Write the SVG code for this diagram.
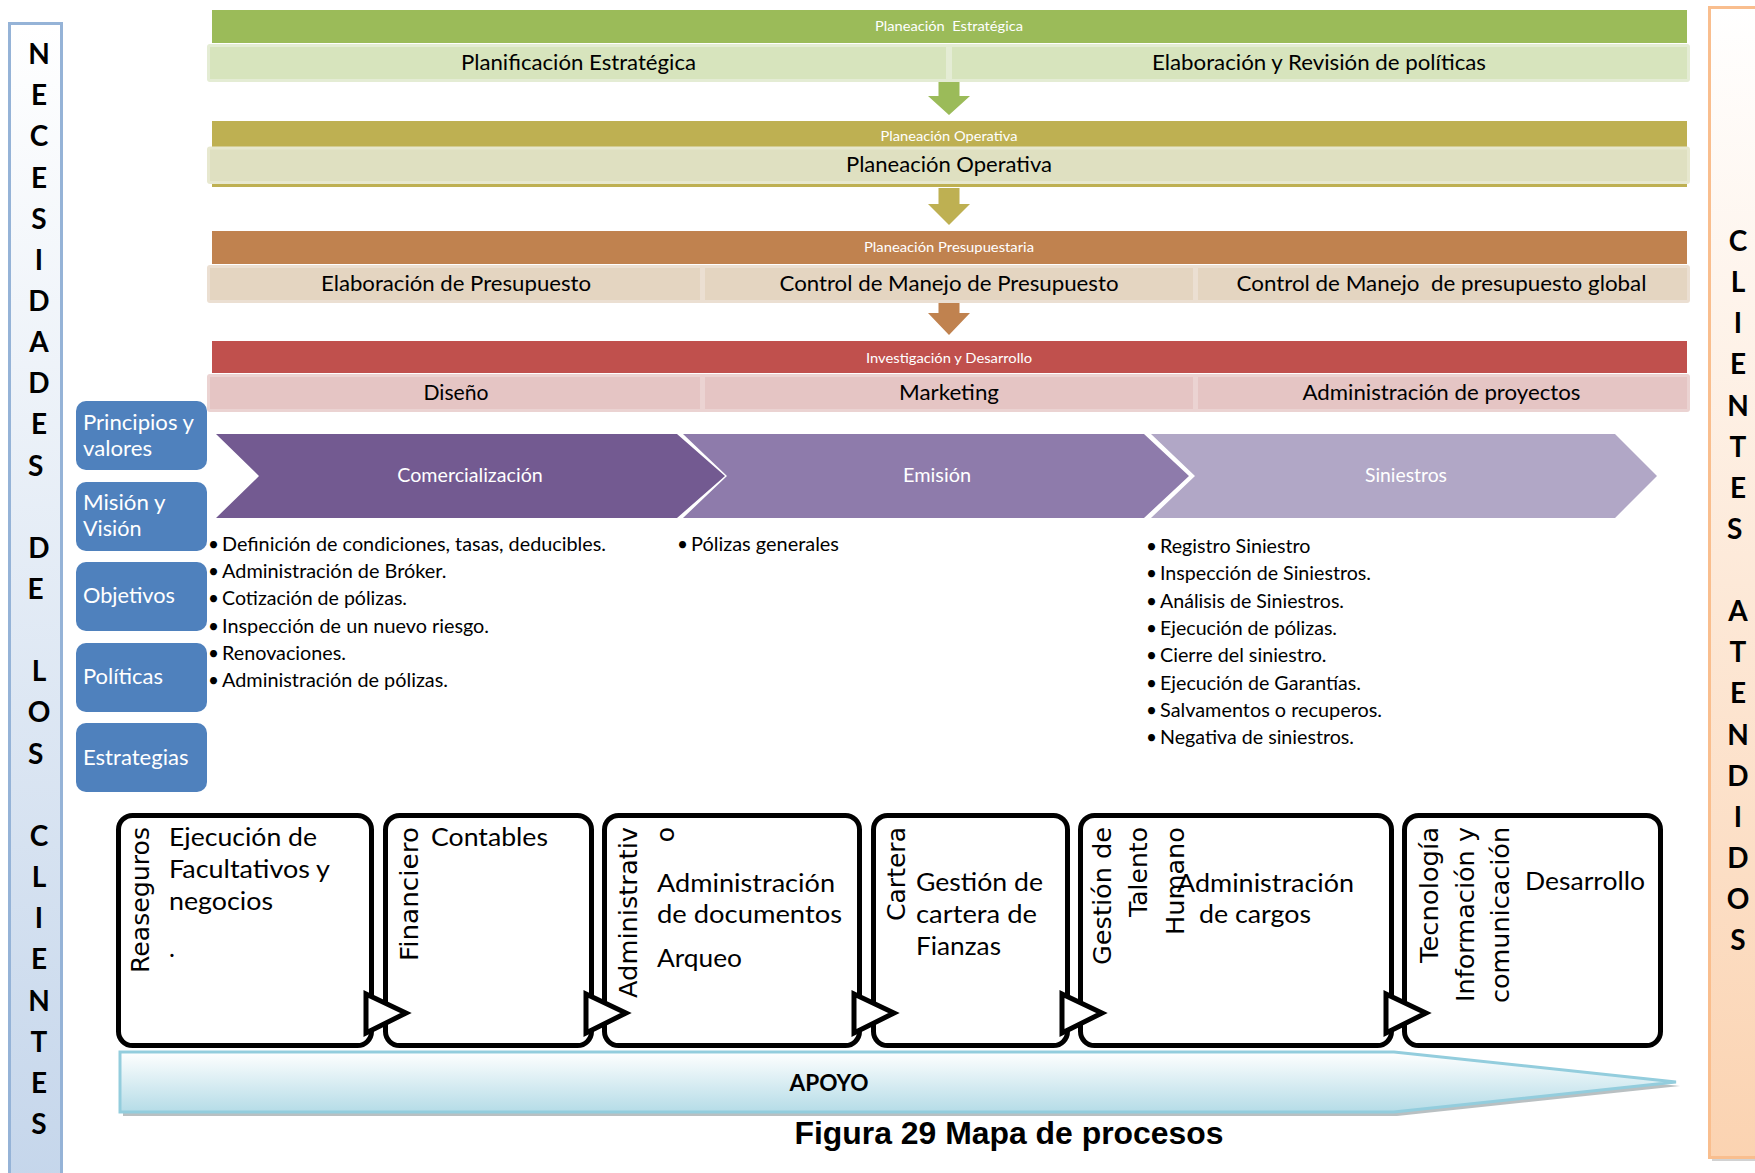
<svg xmlns="http://www.w3.org/2000/svg" width="1755" height="1173" viewBox="0 0 1755 1173">
<defs>
  <linearGradient id="gLeft" x1="0" y1="0" x2="0" y2="1">
    <stop offset="0" stop-color="#FFFFFF"/>
    <stop offset="1" stop-color="#C5D6EB"/>
  </linearGradient>
  <linearGradient id="gRight" x1="0" y1="0" x2="0" y2="1">
    <stop offset="0" stop-color="#FFFFFF"/>
    <stop offset="1" stop-color="#FBD3B1"/>
  </linearGradient>
  <linearGradient id="gApoyo" x1="0" y1="0" x2="0" y2="1">
    <stop offset="0" stop-color="#FFFFFF"/>
    <stop offset="1" stop-color="#B5DCE7"/>
  </linearGradient>
</defs>
<style>
  text{font-family:Lato,"Open Sans","Liberation Sans",sans-serif;fill:#000}
  .pre{white-space:pre}
  .hd{font-size:14px;fill:#fff;text-anchor:middle}
  .rw{font-size:21px;text-anchor:middle}
  .chev{font-size:19px;fill:#fff;text-anchor:middle}
  .blue{font-size:21.5px;fill:#fff}
  .bl{font-size:19px}
  .bx{font-size:25px}
  .vt{font-family:"DejaVu Sans",Verdana,sans-serif;font-size:25px;text-anchor:end}
  .side{font-weight:700;font-size:28px;text-anchor:middle}
  .caption{font-family:"Liberation Sans",Arial,sans-serif;font-weight:700;font-size:32px;text-anchor:middle}
  .box{fill:#fff;stroke:#000;stroke-width:5}
  .tri{fill:#fff;stroke:#000;stroke-width:5;stroke-linejoin:miter}
  .bluebox{fill:#4F81BD}
</style>

<!-- side bands -->
<g id="necesidades">
  <rect x="9.5" y="23.5" width="52" height="1160" fill="url(#gLeft)" stroke="#95B3D7" stroke-width="3"/>
  <text class="side">
    <tspan x="39" y="64">N</tspan><tspan x="39" y="105.2">E</tspan><tspan x="39" y="146.3">C</tspan><tspan x="39" y="187.5">E</tspan><tspan x="39" y="228.6">S</tspan><tspan x="39" y="269.8">I</tspan><tspan x="39" y="310.9">D</tspan><tspan x="39" y="352.1">A</tspan><tspan x="39" y="393.2">D</tspan><tspan x="39" y="434.4">E</tspan><tspan x="39" y="475.5">S</tspan>
    <tspan x="39" y="557.8">D</tspan><tspan x="39" y="599">E</tspan>
    <tspan x="39" y="681.3">L</tspan><tspan x="39" y="722.4">O</tspan><tspan x="39" y="763.6">S</tspan>
    <tspan x="39" y="845.9">C</tspan><tspan x="39" y="887">L</tspan><tspan x="39" y="928.2">I</tspan><tspan x="39" y="969.3">E</tspan><tspan x="39" y="1010.5">N</tspan><tspan x="39" y="1051.6">T</tspan><tspan x="39" y="1092.8">E</tspan><tspan x="39" y="1133.9">S</tspan>
  </text>
</g>
<g id="clientes-atendidos">
  <rect x="1712" y="11" width="60" height="1150" fill="#A6A6A6" opacity="0.5"/>
  <rect x="1709.5" y="7.5" width="60" height="1150" fill="url(#gRight)" stroke="#F9BE8E" stroke-width="3"/>
  <text class="side">
    <tspan x="1738" y="251">C</tspan><tspan x="1738" y="292.1">L</tspan><tspan x="1738" y="333.3">I</tspan><tspan x="1738" y="374.4">E</tspan><tspan x="1738" y="415.5">N</tspan><tspan x="1738" y="456.7">T</tspan><tspan x="1738" y="497.8">E</tspan><tspan x="1738" y="538.9">S</tspan>
    <tspan x="1738" y="621.2">A</tspan><tspan x="1738" y="662.3">T</tspan><tspan x="1738" y="703.4">E</tspan><tspan x="1738" y="744.6">N</tspan><tspan x="1738" y="785.7">D</tspan><tspan x="1738" y="826.8">I</tspan><tspan x="1738" y="868">D</tspan><tspan x="1738" y="909.1">O</tspan><tspan x="1738" y="950.2">S</tspan>
  </text>
</g>

<!-- strategic levels -->
<g id="planeacion-estrategica">
  <rect x="212" y="10" width="1475" height="33" fill="#9BBB59"/>
  <text class="hd pre" x="949" y="30.5" textLength="148" lengthAdjust="spacingAndGlyphs">Planeación  Estratégica</text>
  <rect x="207" y="44" width="1483" height="38" rx="3" fill="#E4ECD4"/>
  <rect x="210" y="47" width="736" height="32" fill="#D7E4BD"/>
  <rect x="952" y="47" width="735" height="32" fill="#D7E4BD"/>
  <text class="rw" x="578.5" y="70" textLength="235" lengthAdjust="spacingAndGlyphs">Planificación Estratégica</text>
  <text class="rw" x="1319" y="70" textLength="334" lengthAdjust="spacingAndGlyphs">Elaboración y Revisión de políticas</text>
</g>
<g id="planeacion-operativa">
  <rect x="212" y="121" width="1475" height="66" fill="#BEB052"/>
  <text class="hd" x="949" y="141" textLength="137" lengthAdjust="spacingAndGlyphs">Planeación Operativa</text>
  <rect x="207" y="146.5" width="1483" height="37.5" rx="3" fill="#E7E8CF"/>
  <rect x="210" y="149.5" width="1477" height="31.5" fill="#DFE0C1"/>
  <text class="rw" x="949" y="171.5" textLength="206" lengthAdjust="spacingAndGlyphs">Planeación Operativa</text>
</g>
<g id="planeacion-presupuestaria">
  <rect x="212" y="231" width="1475" height="33" fill="#C0824F"/>
  <text class="hd" x="949" y="252" textLength="170" lengthAdjust="spacingAndGlyphs">Planeación Presupuestaria</text>
  <rect x="207" y="265" width="1483" height="38" rx="3" fill="#EBDFD2"/>
  <rect x="210" y="268" width="490" height="32" fill="#E4D5C1"/>
  <rect x="705" y="268" width="488" height="32" fill="#E4D5C1"/>
  <rect x="1198" y="268" width="489" height="32" fill="#E4D5C1"/>
  <text class="rw" x="456" y="290.5" textLength="270" lengthAdjust="spacingAndGlyphs">Elaboración de Presupuesto</text>
  <text class="rw" x="949" y="290.5" textLength="339" lengthAdjust="spacingAndGlyphs">Control de Manejo de Presupuesto</text>
  <text class="rw pre" x="1441.5" y="290.5" textLength="410" lengthAdjust="spacingAndGlyphs">Control de Manejo  de presupuesto global</text>
</g>
<g id="investigacion-desarrollo">
  <rect x="212" y="341" width="1475" height="32" fill="#C0504D"/>
  <text class="hd" x="949" y="362.5" textLength="166" lengthAdjust="spacingAndGlyphs">Investigación y Desarrollo</text>
  <rect x="207" y="374" width="1483" height="38" rx="3" fill="#EBD3D2"/>
  <rect x="210" y="377" width="490" height="32" fill="#E5C5C4"/>
  <rect x="705" y="377" width="488" height="32" fill="#E5C5C4"/>
  <rect x="1198" y="377" width="489" height="32" fill="#E5C5C4"/>
  <text class="rw" x="456" y="399.5" textLength="65" lengthAdjust="spacingAndGlyphs">Diseño</text>
  <text class="rw" x="949" y="399.5" textLength="100" lengthAdjust="spacingAndGlyphs">Marketing</text>
  <text class="rw" x="1441.5" y="399.5" textLength="278" lengthAdjust="spacingAndGlyphs">Administración de proyectos</text>
</g>

<!-- strategic pillars -->
<g id="principios">
  <rect class="bluebox" x="76" y="401" width="131" height="69" rx="10"/>
  <text class="blue" x="83" y="430" textLength="111" lengthAdjust="spacingAndGlyphs">Principios y</text>
  <text class="blue" x="83" y="456" textLength="69" lengthAdjust="spacingAndGlyphs">valores</text>
</g>
<g id="mision">
  <rect class="bluebox" x="76" y="482" width="131" height="69" rx="10"/>
  <text class="blue" x="83" y="510" textLength="82.5" lengthAdjust="spacingAndGlyphs">Misión y</text>
  <text class="blue" x="83" y="536" textLength="58.5" lengthAdjust="spacingAndGlyphs">Visión</text>
</g>
<g id="objetivos">
  <rect class="bluebox" x="76" y="562" width="131" height="69" rx="10"/>
  <text class="blue" x="83" y="603" textLength="92" lengthAdjust="spacingAndGlyphs">Objetivos</text>
</g>
<g id="politicas">
  <rect class="bluebox" x="76" y="643" width="131" height="69" rx="10"/>
  <text class="blue" x="83" y="683.5" textLength="80" lengthAdjust="spacingAndGlyphs">Políticas</text>
</g>
<g id="estrategias">
  <rect class="bluebox" x="76" y="723" width="131" height="69" rx="10"/>
  <text class="blue" x="83" y="765" textLength="105.5" lengthAdjust="spacingAndGlyphs">Estrategias</text>
</g>

<!-- core value chain -->
<g id="comercializacion">
  <polygon points="216,434 677,434 725,476 677,518 216,518 259,476" fill="#735A91"/>
  <text class="chev" x="470" y="482" textLength="145.5" lengthAdjust="spacingAndGlyphs">Comercialización</text>
  <text class="bl">
    <tspan x="208" y="550.7">•</tspan><tspan x="208" y="578">•</tspan><tspan x="208" y="605.3">•</tspan><tspan x="208" y="632.6">•</tspan><tspan x="208" y="659.9">•</tspan><tspan x="208" y="687.2">•</tspan>
  </text>
  <text class="bl" x="222" y="550.7" textLength="384" lengthAdjust="spacingAndGlyphs">Definición de condiciones, tasas, deducibles.</text>
  <text class="bl" x="222" y="578" textLength="224.5" lengthAdjust="spacingAndGlyphs">Administración de Bróker.</text>
  <text class="bl" x="222" y="605.3" textLength="185" lengthAdjust="spacingAndGlyphs">Cotización de pólizas.</text>
  <text class="bl" x="222" y="632.6" textLength="267" lengthAdjust="spacingAndGlyphs">Inspección de un nuevo riesgo.</text>
  <text class="bl" x="222" y="659.9" textLength="124" lengthAdjust="spacingAndGlyphs">Renovaciones.</text>
  <text class="bl" x="222" y="687.2" textLength="226" lengthAdjust="spacingAndGlyphs">Administración de pólizas.</text>
</g>
<g id="emision">
  <polygon points="683,434 1144,434 1189,476 1144,518 683,518 727,476" fill="#8E7BAB"/>
  <text class="chev" x="937" y="482" textLength="68" lengthAdjust="spacingAndGlyphs">Emisión</text>
  <text class="bl" x="677" y="550.7">•</text>
  <text class="bl" x="691" y="550.7" textLength="148" lengthAdjust="spacingAndGlyphs">Pólizas generales</text>
</g>
<g id="siniestros">
  <polygon points="1151,434 1615,434 1657,476 1615,518 1151,518 1195,476" fill="#B1A7C6"/>
  <text class="chev" x="1406" y="482" textLength="82" lengthAdjust="spacingAndGlyphs">Siniestros</text>
  <text class="bl">
    <tspan x="1146" y="553">•</tspan><tspan x="1146" y="580.3">•</tspan><tspan x="1146" y="607.6">•</tspan><tspan x="1146" y="634.9">•</tspan><tspan x="1146" y="662.2">•</tspan><tspan x="1146" y="689.5">•</tspan><tspan x="1146" y="716.8">•</tspan><tspan x="1146" y="744.1">•</tspan>
  </text>
  <text class="bl" x="1160" y="553" textLength="150.5" lengthAdjust="spacingAndGlyphs">Registro Siniestro</text>
  <text class="bl" x="1160" y="580.3" textLength="211" lengthAdjust="spacingAndGlyphs">Inspección de Siniestros.</text>
  <text class="bl" x="1160" y="607.6" textLength="184" lengthAdjust="spacingAndGlyphs">Análisis de Siniestros.</text>
  <text class="bl" x="1160" y="634.9" textLength="177" lengthAdjust="spacingAndGlyphs">Ejecución de pólizas.</text>
  <text class="bl" x="1160" y="662.2" textLength="166.5" lengthAdjust="spacingAndGlyphs">Cierre del siniestro.</text>
  <text class="bl" x="1160" y="689.5" textLength="201" lengthAdjust="spacingAndGlyphs">Ejecución de Garantías.</text>
  <text class="bl" x="1160" y="716.8" textLength="222" lengthAdjust="spacingAndGlyphs">Salvamentos o recuperos.</text>
  <text class="bl" x="1160" y="744.1" textLength="194" lengthAdjust="spacingAndGlyphs">Negativa de siniestros.</text>
</g>

<!-- support processes -->
<g id="reaseguros">
  <rect class="box" x="118.5" y="815.5" width="253" height="230" rx="14"/>
  <text class="vt" transform="translate(149,827) rotate(-90)" textLength="146" lengthAdjust="spacingAndGlyphs">Reaseguros</text>
  <text class="bx" x="169" y="846" textLength="148" lengthAdjust="spacingAndGlyphs">Ejecución de</text>
  <text class="bx" x="169" y="878" textLength="161" lengthAdjust="spacingAndGlyphs">Facultativos y</text>
  <text class="bx" x="169" y="910" textLength="104" lengthAdjust="spacingAndGlyphs">negocios</text>
  <text class="bx" x="169" y="957">.</text>
</g>
<g id="financiero">
  <rect class="box" x="385.5" y="815.5" width="206" height="230" rx="14"/>
  <text class="vt" transform="translate(418,827) rotate(-90)" textLength="134" lengthAdjust="spacingAndGlyphs">Financiero</text>
  <text class="bx" x="431" y="846" textLength="117" lengthAdjust="spacingAndGlyphs">Contables</text>
</g>
<g id="administrativo">
  <rect class="box" x="604.5" y="815.5" width="255" height="230" rx="14"/>
  <text class="vt" transform="translate(637,827) rotate(-90)" textLength="171" lengthAdjust="spacingAndGlyphs">Administrativ</text>
  <text class="vt" transform="translate(674,827) rotate(-90)">o</text>
  <text class="bx" x="657" y="892" textLength="178" lengthAdjust="spacingAndGlyphs">Administración</text>
  <text class="bx" x="657" y="923" textLength="185" lengthAdjust="spacingAndGlyphs">de documentos</text>
  <text class="bx" x="657" y="967" textLength="85" lengthAdjust="spacingAndGlyphs">Arqueo</text>
</g>
<g id="cartera">
  <rect class="box" x="873.5" y="815.5" width="194" height="230" rx="14"/>
  <text class="vt" transform="translate(905,827) rotate(-90)" textLength="94" lengthAdjust="spacingAndGlyphs">Cartera</text>
  <text class="bx" x="916" y="891" textLength="127" lengthAdjust="spacingAndGlyphs">Gestión de</text>
  <text class="bx" x="916" y="923" textLength="121" lengthAdjust="spacingAndGlyphs">cartera de</text>
  <text class="bx" x="916" y="955" textLength="85" lengthAdjust="spacingAndGlyphs">Fianzas</text>
</g>
<g id="talento-humano">
  <rect class="box" x="1080.5" y="815.5" width="311" height="230" rx="14"/>
  <text class="vt" transform="translate(1111,827) rotate(-90)" textLength="138" lengthAdjust="spacingAndGlyphs">Gestión de</text>
  <text class="vt" transform="translate(1147,827) rotate(-90)" textLength="90" lengthAdjust="spacingAndGlyphs">Talento</text>
  <text class="vt" transform="translate(1184,827) rotate(-90)" textLength="108" lengthAdjust="spacingAndGlyphs">Humano</text>
  <text class="bx" x="1177" y="892" textLength="177" lengthAdjust="spacingAndGlyphs">Administración</text>
  <text class="bx" x="1199" y="923" textLength="112" lengthAdjust="spacingAndGlyphs">de cargos</text>
</g>
<g id="tecnologia">
  <rect class="box" x="1404.5" y="815.5" width="256" height="230" rx="14"/>
  <text class="vt" transform="translate(1438,827) rotate(-90)" textLength="136" lengthAdjust="spacingAndGlyphs">Tecnología</text>
  <text class="vt" transform="translate(1474,827) rotate(-90)" textLength="175" lengthAdjust="spacingAndGlyphs">Información y</text>
  <text class="vt" transform="translate(1509,827) rotate(-90)" textLength="176" lengthAdjust="spacingAndGlyphs">comunicación</text>
  <text class="bx" x="1525" y="890" textLength="120" lengthAdjust="spacingAndGlyphs">Desarrollo</text>
</g>

<g id="apoyo">
  <path d="M123,1056 H1397 L1680,1086 L1397,1116 H123 Z" fill="#7F8C90" opacity="0.55"/>
  <path d="M120,1052 H1394 L1676,1082 L1394,1112 H120 Z" fill="url(#gApoyo)" stroke="#93CDDD" stroke-width="3"/>
  <text x="829" y="1091" font-weight="700" font-size="23" text-anchor="middle" textLength="79" lengthAdjust="spacingAndGlyphs">APOYO</text>
</g>

<!-- flow arrows -->
<g id="connectors">
  <polygon points="938.5,82 959.5,82 959.5,96 970,96 949,115 928,96 938.5,96" fill="#9BBB59"/>
  <polygon points="938.5,188 959.5,188 959.5,204 970,204 949,225 928,204 938.5,204" fill="#BEB052"/>
  <polygon points="938.5,303 959.5,303 959.5,313 970,313 949,335 928,313 938.5,313" fill="#C0824F"/>
  <polygon class="tri" points="366,994 406,1013 366,1033"/>
  <polygon class="tri" points="586,994 626,1013 586,1033"/>
  <polygon class="tri" points="854,994 894,1013 854,1033"/>
  <polygon class="tri" points="1062,994 1102,1013 1062,1033"/>
  <polygon class="tri" points="1386,994 1426,1013 1386,1033"/>
</g>

<text class="caption" x="1009" y="1144" textLength="429" lengthAdjust="spacingAndGlyphs">Figura 29 Mapa de procesos</text>
</svg>
